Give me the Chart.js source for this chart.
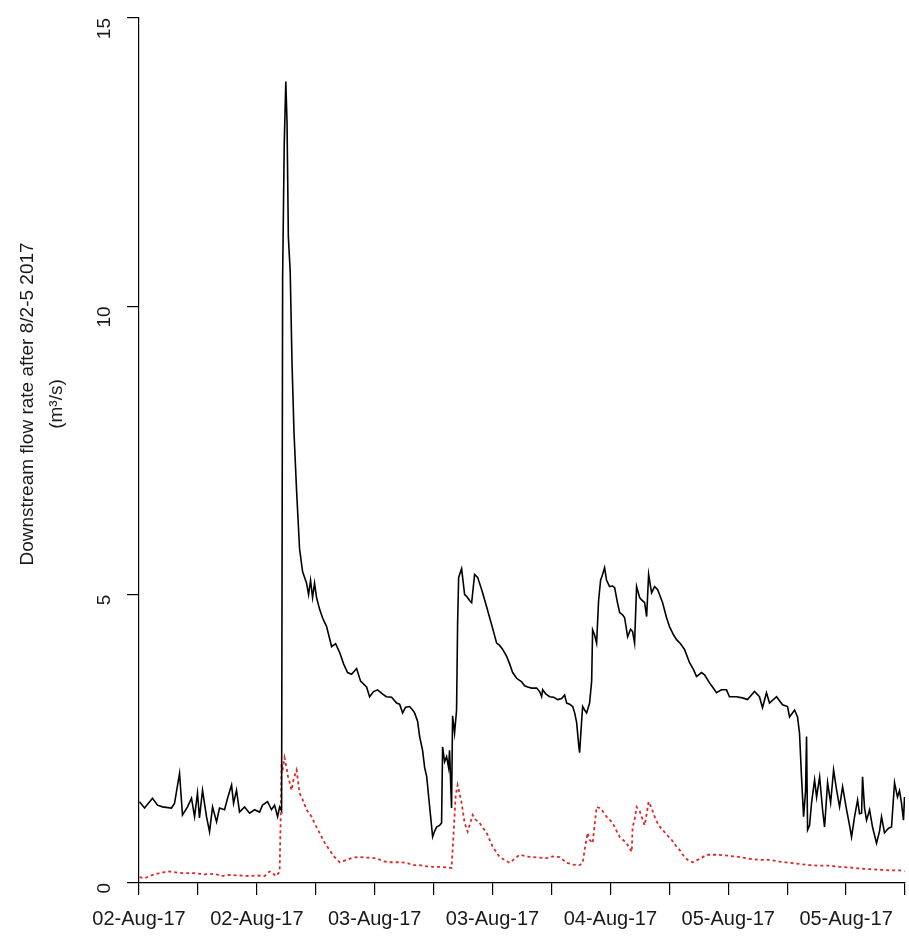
<!DOCTYPE html>
<html>
<head>
<meta charset="utf-8">
<script src="https://cdn.jsdelivr.net/npm/chart.js@4.4.1/dist/chart.umd.min.js"></script>
<style>
  html, body { margin: 0; padding: 0; background: #fff; }
  canvas { display: block; }
</style>
</head>
<body>
<canvas id="flowChart" width="909" height="937"></canvas>
<script>
// hours since 02-Aug-17 00:00, flow in m3/s
var obsFlow = [
  [0.06,1.41],[0.69,1.30],[1.69,1.47],[2.32,1.35],[2.95,1.32],[4.07,1.30],[4.45,1.38],[5.08,1.90],[5.45,1.18],[6.08,1.32],
  [6.58,1.47],[6.96,1.15],[7.33,1.56],[7.58,1.13],[7.96,1.61],[8.46,1.15],[8.84,0.89],[9.22,1.32],[9.72,1.06],[10.09,1.30],
  [10.72,1.27],[11.10,1.47],[11.60,1.70],[11.85,1.38],[12.22,1.61],[12.60,1.23],[13.23,1.32],[13.86,1.21],[14.48,1.27],[15.11,1.23],
  [15.48,1.35],[16.11,1.41],[16.61,1.27],[16.99,1.35],[17.37,1.15],[17.62,1.32],[17.87,1.25],[18.0,10.5],[18.2,12.8],[18.4,13.9],
  [18.55,13.2],[18.72,11.2],[18.95,10.6],[19.18,9.0],[19.43,7.8],[19.75,6.8],[20.12,5.8],[20.50,5.4],[21.0,5.2],[21.25,5.0],
  [21.5,5.25],[21.75,4.95],[22.0,5.2],[22.25,4.95],[22.63,4.75],[23.0,4.6],[23.5,4.45],[24.14,4.1],[24.64,4.15],[25.14,4.0],
  [25.64,3.8],[26.14,3.65],[26.64,3.62],[27.27,3.72],[27.77,3.5],[28.52,3.4],[28.9,3.23],[29.4,3.32],[29.9,3.35],[30.5,3.28],
  [31.0,3.23],[31.66,3.22],[32.29,3.12],[32.66,3.1],[33.04,2.95],[33.41,3.05],[33.92,3.06],[34.29,3.0],[34.54,2.95],[34.92,2.8],
  [35.17,2.54],[35.54,2.3],[35.8,2.0],[36.05,1.85],[36.3,1.5],[36.55,1.15],[36.8,0.8],[37.05,0.9],[37.3,0.97],[37.67,1.0],
  [37.92,1.04],[38.05,2.36],[38.3,2.1],[38.55,2.19],[38.8,2.0],[38.92,2.3],[39.17,1.3],[39.3,2.9],[39.55,2.6],[39.8,3.0],
  [39.93,4.5],[40.06,5.3],[40.43,5.45],[40.81,5.0],[41.06,4.97],[41.43,4.9],[41.69,4.86],[42.06,5.35],[42.44,5.3],[42.94,5.09],
  [43.44,4.85],[43.95,4.6],[44.45,4.35],[44.82,4.16],[45.2,4.12],[45.58,4.05],[46.08,3.93],[46.45,3.8],[46.83,3.65],[47.33,3.55],
  [47.95,3.49],[48.33,3.42],[48.71,3.40],[49.21,3.38],[49.83,3.38],[50.21,3.32],[50.46,3.23],[50.59,3.35],[50.97,3.28],[51.47,3.23],
  [51.97,3.22],[52.47,3.18],[52.97,3.2],[53.34,3.26],[53.6,3.12],[53.97,3.1],[54.35,3.06],[54.6,2.95],[54.85,2.78],[55.1,2.4],
  [55.22,2.26],[55.47,2.8],[55.6,3.06],[55.85,3.0],[56.1,2.95],[56.47,3.12],[56.73,3.5],[56.85,4.39],[57.1,4.3],[57.35,4.16],
  [57.6,4.9],[57.85,5.25],[58.1,5.35],[58.35,5.47],[58.6,5.25],[58.98,5.14],[59.36,5.15],[59.61,5.12],[59.98,4.85],[60.24,4.69],
  [60.61,4.65],[60.86,4.6],[61.24,4.27],[61.61,4.4],[61.86,4.36],[62.11,4.16],[62.36,5.14],[62.74,4.95],[62.99,4.91],[63.37,4.86],
  [63.62,4.62],[63.87,5.35],[64.24,5.03],[64.62,5.14],[64.99,5.09],[65.25,5.0],[65.62,4.86],[66.12,4.6],[66.5,4.44],[67.0,4.3],
  [67.37,4.22],[67.87,4.15],[68.37,4.05],[69.0,3.82],[69.5,3.7],[69.87,3.58],[70.5,3.65],[70.88,3.61],[71.5,3.47],[71.88,3.40],
  [72.38,3.30],[73.0,3.35],[73.63,3.35],[74.0,3.23],[74.88,3.23],[75.63,3.21],[76.26,3.18],[77.14,3.32],[77.76,3.23],[78.14,3.04],
  [78.64,3.30],[79.02,3.12],[79.9,3.23],[80.65,3.09],[81.28,3.06],[81.53,2.88],[82.16,3.0],[82.53,2.88],[82.78,2.6],[83.03,1.84],
  [83.29,1.15],[83.54,1.6],[83.66,2.54],[83.79,0.92],[84.04,1.0],[84.29,1.39],[84.67,1.79],[84.92,1.49],[85.3,1.84],[85.67,1.27],
  [85.92,0.97],[86.3,1.74],[86.68,1.39],[87.05,1.96],[87.43,1.61],[87.8,1.32],[88.18,1.67],[88.68,1.27],[89.05,1.0],[89.3,0.8],
  [89.68,1.15],[90.06,1.44],[90.3,1.2],[90.56,1.21],[90.68,1.84],[90.93,1.3],[91.18,1.09],[91.56,1.27],[91.93,0.97],[92.43,0.69],
  [92.81,0.9],[93.06,1.15],[93.43,0.87],[93.94,0.95],[94.31,0.97],[94.69,1.74],[95.06,1.49],[95.31,1.6],[95.56,1.39],[95.81,1.09],
  [95.94,1.49]
];

var baseFlow = [
  [0.06,0.10],[0.69,0.08],[1.32,0.12],[1.94,0.15],[2.57,0.17],[3.2,0.19],[3.82,0.20],[4.83,0.18],[5.7,0.17],[6.96,0.17],
  [8.21,0.15],[9.47,0.16],[10.34,0.12],[11.35,0.14],[12.6,0.13],[13.86,0.12],[14.86,0.13],[15.74,0.12],[16.36,0.2],[16.74,0.18],
  [17.11,0.12],[17.37,0.15],[17.62,0.2],[17.74,1.0],[17.87,2.08],[17.99,1.95],[18.24,2.17],[18.49,2.0],[18.68,1.84],[18.87,1.75],
  [19.12,1.61],[19.37,1.8],[19.75,1.96],[20.12,1.56],[20.5,1.45],[21.0,1.27],[21.63,1.15],[22.13,1.0],[22.63,0.87],[23.26,0.7],
  [23.88,0.57],[24.51,0.45],[25.14,0.36],[26.02,0.40],[26.77,0.44],[27.65,0.45],[28.65,0.44],[29.78,0.43],[30.53,0.38],[31.41,0.36],
  [32.66,0.36],[33.54,0.35],[34.29,0.31],[35.17,0.31],[36.05,0.29],[36.8,0.28],[37.67,0.28],[38.55,0.27],[39.17,0.26],[39.43,0.87],
  [39.68,1.5],[39.93,1.70],[40.18,1.55],[40.43,1.39],[40.81,1.04],[41.19,0.89],[41.43,1.0],[41.81,1.18],[42.19,1.1],[42.69,1.04],
  [43.57,0.87],[44.32,0.63],[45.2,0.45],[45.83,0.4],[46.45,0.35],[47.08,0.42],[47.7,0.49],[48.58,0.46],[49.33,0.45],[50.21,0.44],
  [51.09,0.43],[51.84,0.46],[52.72,0.45],[53.6,0.35],[54.35,0.32],[55.22,0.31],[55.6,0.35],[55.85,0.57],[56.22,0.87],[56.47,0.75],
  [56.85,0.69],[57.1,1.0],[57.35,1.32],[57.72,1.3],[57.98,1.27],[58.6,1.15],[59.36,1.04],[59.86,0.9],[60.24,0.8],[61.11,0.69],
  [61.75,0.54],[61.86,0.97],[62.11,1.1],[62.36,1.32],[62.74,1.25],[62.99,1.15],[63.37,1.0],[63.62,1.2],[63.87,1.41],[64.24,1.3],
  [64.62,1.15],[65.12,1.0],[65.62,0.92],[66.25,0.82],[66.75,0.75],[67.25,0.65],[67.77,0.57],[68.27,0.47],[68.77,0.40],[69.4,0.36],
  [70.28,0.42],[71.16,0.49],[72.54,0.49],[74.04,0.47],[75.29,0.45],[76.54,0.42],[77.8,0.40],[79.05,0.40],[80.3,0.37],[81.55,0.35],
  [82.78,0.33],[84.04,0.31],[85.3,0.30],[86.55,0.30],[87.8,0.28],[89.05,0.27],[90.3,0.25],[91.56,0.24],[92.81,0.23],[94.06,0.22],
  [95.31,0.22],[95.94,0.2]
];

var spanHours = 96;
var tickCount = 14;
var tickLabels = ['02-Aug-17','','02-Aug-17','','03-Aug-17','','03-Aug-17','','04-Aug-17','','05-Aug-17','','05-Aug-17',''];
var yTicks = [0, 5, 10, 15];
var yTitle = ['Downstream flow rate after 8/2-5 2017', '(m\u00b3/s)'];

function toPoints(arr){
  return arr.map(function(p){ return {x: p[0], y: p[1]}; });
}

// y axis title, R style (two rotated lines left of the axis)
var yTitlePlugin = {
  id: 'yTitle',
  afterDraw: function(chart){
    var c = chart.ctx;
    c.save();
    c.fillStyle = '#1a1a1a';
    c.font = '19px "Liberation Sans", Arial, sans-serif';
    c.textAlign = 'center';
    c.textBaseline = 'middle';
    c.translate(28, 404);
    c.rotate(-Math.PI/2);
    c.fillText(yTitle[0], 0, 0);
    c.fillText(yTitle[1], 0, 29);
    c.restore();
  }
};

var ctx = document.getElementById('flowChart').getContext('2d');
var chart = new Chart(ctx, {
  type: 'line',
  data: {
    datasets: [{
      label: 'observed',
      data: toPoints(obsFlow),
      borderColor: '#000',
      borderWidth: 1.6,
      pointRadius: 0,
      tension: 0,
      fill: false
    }, {
      label: 'base',
      data: toPoints(baseFlow),
      borderColor: 'rgb(222,40,40)',
      borderWidth: 1.8,
      borderDash: [3, 3],
      pointRadius: 0,
      tension: 0,
      fill: false
    }]
  },
  options: {
    responsive: false,
    animation: false,
    devicePixelRatio: 1,
    layout: { padding: { top: 18, right: 4, left: 0, bottom: 0 } },
    plugins: { legend: { display: false }, tooltip: { enabled: false } },
    scales: {
      x: {
        type: 'linear',
        min: 0,
        max: spanHours,
        afterBuildTicks: function(s){
          var t = [];
          for (var i = 0; i < tickCount; i++) t.push({value: i*spanHours/(tickCount-1)});
          s.ticks = t;
        },
        afterFit: function(s){ s.height = 54; s.paddingLeft = 0; s.paddingRight = 0; },
        ticks: {
          autoSkip: false,
          maxRotation: 0,
          minRotation: 0,
          padding: 12,
          color: '#1a1a1a',
          font: { family: '"Liberation Sans", Arial, sans-serif', size: 20 },
          callback: function(v, i){ return tickLabels[i]; }
        },
        grid: { drawOnChartArea: false, drawTicks: true, tickLength: 12, color: '#000', lineWidth: 1.2 },
        border: { display: true, color: '#000', width: 1.2 }
      },
      y: {
        min: 0,
        max: 15,
        afterBuildTicks: function(s){
          s.ticks = yTicks.map(function(v){ return {value: v}; });
        },
        afterFit: function(s){ s.width = 139; s.paddingTop = 0; s.paddingBottom = 0; },
        ticks: {
          minRotation: 90,
          maxRotation: 90,
          padding: 22,
          color: '#1a1a1a',
          font: { family: '"Liberation Sans", Arial, sans-serif', size: 19 }
        },
        grid: { drawOnChartArea: false, drawTicks: true, tickLength: 12, color: '#000', lineWidth: 1.2 },
        border: { display: true, color: '#000', width: 1.2 }
      }
    }
  },
  plugins: [yTitlePlugin]
});
</script>
</body>
</html>
